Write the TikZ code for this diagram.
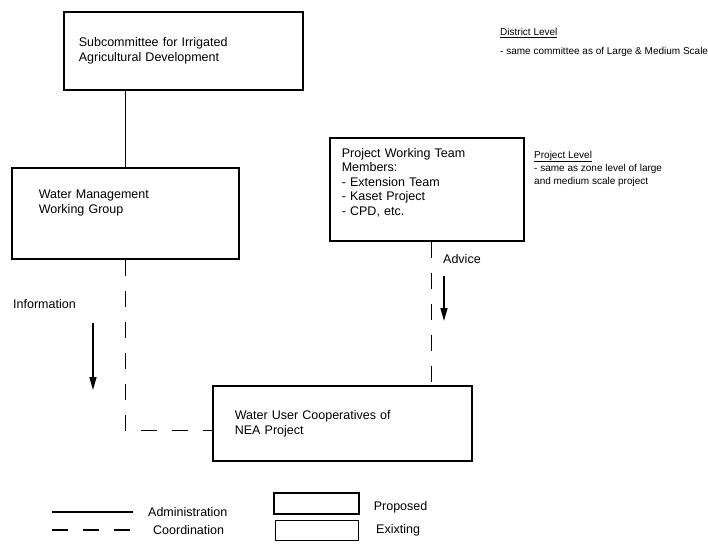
\documentclass[tikz,border=0pt]{standalone}
\usepackage{fontspec}
\setmainfont{Liberation Sans}
\usetikzlibrary{arrows.meta,positioning}

\begin{document}
\begin{tikzpicture}[
x=1pt,y=-1pt,
font=\fontsize{12.5}{15}\selectfont,
box/.style={draw,line width=1.6pt,anchor=north west,align=left,inner ysep=0pt},
admin/.style={line width=1.3pt},
coord/.style={line width=1.3pt,dash pattern=on 16pt off 15pt},
flow/.style={-{Triangle[length=13pt,width=7pt]},line width=1.6pt},
note/.style={anchor=base west,inner sep=0pt,font=\fontsize{10}{12}\selectfont}
]
\useasboundingbox (0,0) rectangle (708,543);
\node[box,minimum width=239,minimum height=78,text width=209,inner xsep=15] (sub) at (63,11) {Subcommittee for Irrigated\\Agricultural Development};
\node[box,minimum width=227,minimum height=91,text width=173,inner xsep=27,text depth=38pt] (wmwg) at (11,167) {Water Management\\Working Group};
\node[box,minimum width=194,minimum height=103,text width=170,inner xsep=12,text depth=73pt,font=\fontsize{12.5}{14.5}\selectfont] (pwt) at (329,137) {Project Working Team\\Members:\\- Extension Team\\- Kaset Project\\- CPD, etc.};
\node[box,minimum width=259,minimum height=75,text width=215,inner xsep=22] (wuc) at (212,385) {Water User Cooperatives of\\NEA Project};
% levels
\node[note] (district) at (500,36) {\underline{District Level}};
\node[note] (districttxt) at (500,54) {- same committee as of Large \& Medium Scale};
\node[note] (project) at (534,158) {\underline{Project Level}};
\node[note] (projecttxta) at (534,171) {- same as zone level of large};
\node[note] (projecttxtb) at (534,184) {and medium scale project};
% links
\coordinate (wucin) at ([yshift=-7pt]wuc.west);
\coordinate (pwtout) at ([xshift=5pt]pwt.south);
\draw[admin] (wmwg.north) -- (wmwg.north |- sub.south);
\draw[coord] (wmwg.south) |- (wucin);
\draw[coord] (pwtout) -- (pwtout |- wuc.north);
% flows
\node[anchor=base west,inner sep=0pt] (info) at (13,308) {Information};
\coordinate (infotop) at (93,323);
\coordinate (infobot) at (93,390);
\draw[flow] (infotop) -- (infobot);
\node[anchor=base west,inner sep=0pt] (advice) at (443,263) {Advice};
\coordinate (advtop) at (444,276);
\coordinate (advbot) at (444,321);
\draw[flow] (advtop) -- (advbot);
% legend
\coordinate (adma) at (52,512);
\coordinate (admb) at (133,512);
\draw[admin] (adma) -- (admb);
\node[right=15pt of admb,inner sep=0pt] (admlbl) {Administration};
\coordinate (coa) at (52,530);
\coordinate (cob) at (133,530);
\draw[coord] (coa) -- (cob);
\node[right=20pt of cob,inner sep=0pt] (colbl) {Coordination};
\node[draw,line width=1.6pt,anchor=north west,minimum width=85,minimum height=21] (prop) at (273,492) {};
\node[right=14pt of prop,inner sep=0pt,yshift=-4pt] (proplbl) {Proposed};
\node[draw,line width=1pt,anchor=north west,minimum width=83,minimum height=20] (exist) at (275,520) {};
\node[right=17pt of exist,inner sep=0pt] (existlbl) {Exixting};
\end{tikzpicture}
\end{document}
